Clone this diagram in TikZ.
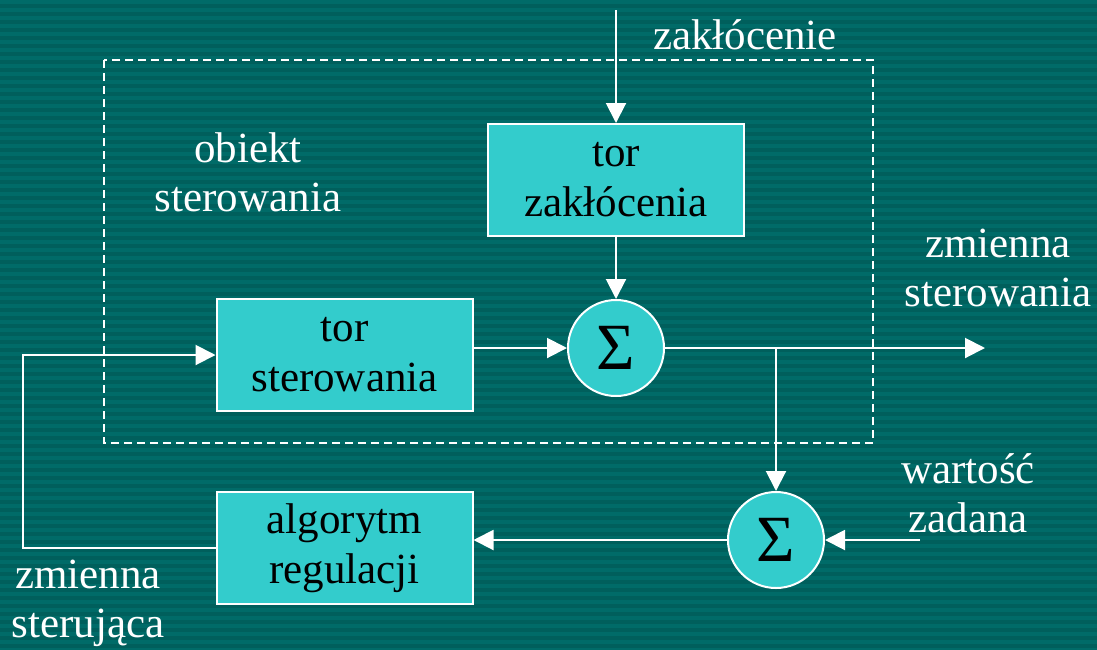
\documentclass[tikz,border=0pt]{standalone}
\usepackage{fontspec}
\setmainfont{Liberation Serif}
\usetikzlibrary{arrows.meta}
\definecolor{bgdark}{HTML}{005F5C}
\definecolor{bglight}{HTML}{006B68}
\definecolor{blockfill}{HTML}{33CCCC}
\tikzset{
  block/.style={draw=white, line width=2pt, fill=blockfill, text=black,
    minimum width=256pt, minimum height=112pt, align=center,
    font=\fontsize{43}{50}\selectfont, inner sep=0pt},
  sumnode/.style={draw=white, line width=2pt, fill=blockfill, circle,
    minimum size=96pt, inner sep=0pt, font=\fontsize{66}{66}\selectfont},
  lbl/.style={text=white, align=center, font=\fontsize{43}{49}\selectfont, inner sep=0pt},
  arr/.style={draw=white, line width=2pt, -{Triangle[length=20pt, width=20pt]}},
  frame/.style={draw=white, line width=2pt, dash pattern=on 8pt off 5pt}
}
\begin{document}
\begin{tikzpicture}[x=1pt, y=-1pt]
  \useasboundingbox (0,0) rectangle (1097,649);
  % striped background
  \fill[bgdark] (0,0) rectangle (1097,649);
  \foreach \i in {0,...,81} {
    \fill[bglight] (0,\i*8) rectangle (1097,\i*8+4);
  }

  % boundary of the controlled object
  \draw[frame] (104,60) rectangle (873,443);

  % blocks
  \node[block] (tz) at (616,180) {tor\\zakłócenia};
  \node[block] (ts) at (344.5,355) {tor\\sterowania};
  \node[block] (ar) at (344.5,548) {algorytm\\regulacji};
  \node[sumnode] (s1) at (616,348) {Σ};
  \node[sumnode] (s2) at (776,540) {Σ};

  % labels
  \node[lbl] (lz) at (745,35) {zakłócenie};
  \node[lbl] (lo) at (248,172) {obiekt\\sterowania};
  \node[lbl] (lzs) at (998,268) {zmienna\\sterowania};
  \node[lbl] (lwz) at (968,493) {wartość\\zadana};
  \node[lbl] (lzst) at (88,603) {zmienna\\sterująca};

  % free ends and corners
  \coordinate (din) at (616,10);
  \coordinate (out) at (985,348);
  \coordinate (br) at (776,348);
  \coordinate (wz) at (920,540);
  \coordinate (fb) at (23,548);

  % connectors
  \draw[arr] (din) -- (tz.north);
  \draw[arr] (tz.south) -- (s1.north);
  \draw[arr] (ts.east |- s1.west) -- (s1.west);
  \draw[arr] (s1.east) -- (out);
  \draw[arr] (br) -- (s2.north);
  \draw[arr] (wz) -- (s2.east);
  \draw[arr] (s2.west) -- (ar.east |- s2.west);
  \draw[arr] (ar.west) -- (fb) |- (ts.west);
\end{tikzpicture}
\end{document}
